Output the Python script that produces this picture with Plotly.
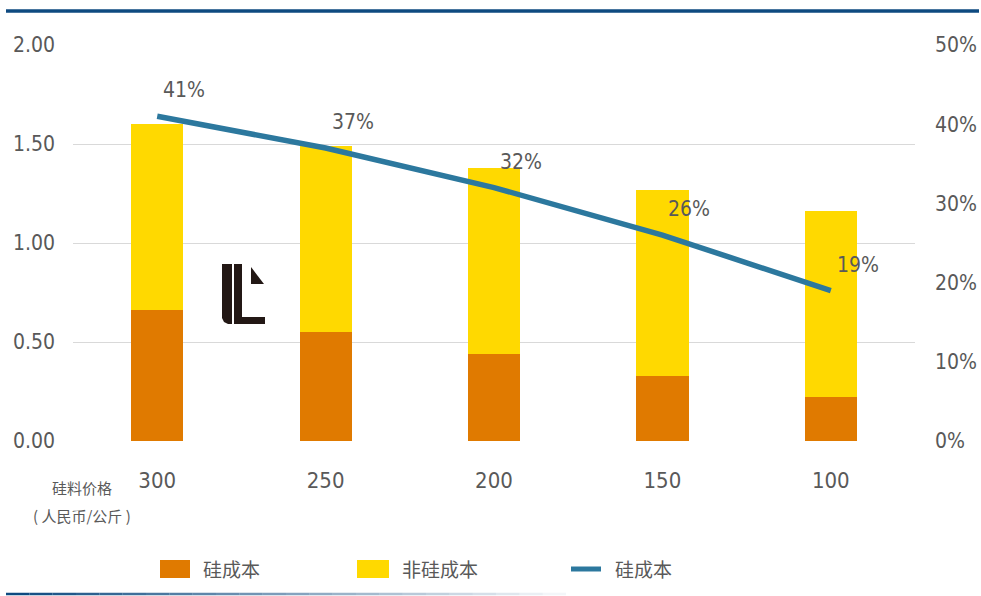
import plotly.graph_objects as go

# Silicon price (RMB/kg) and per-unit cost breakdown
prices = ["300", "250", "200", "150", "100"]
silicon_cost = [0.66, 0.55, 0.44, 0.33, 0.22]
non_silicon_cost = [0.94, 0.94, 0.94, 0.94, 0.94]
silicon_share = [0.41, 0.37, 0.32, 0.26, 0.19]

name_si = "硅成本"
name_non_si = "非硅成本"
name_share = "硅成本"
x_title_1 = "硅料价格"
x_title_2 = "( 人民币/公斤 )"

W, H = 981, 596
L, R, T, B = 73, 66, 45, 155
PW, PH = W - L - R, H - T - B

ORANGE = "#E07A00"
YELLOW = "#FFD900"
BLUE = "#2C789E"
GREY = "#595959"
FONT = "DejaVu Sans Condensed, Noto Sans CJK SC, sans-serif"
CJK = "Noto Sans CJK SC, sans-serif"


def px(x):
    return (x - L) / PW


def py(y):
    return (H - B - y) / PH


fig = go.Figure()
fig.add_trace(go.Bar(x=prices, y=silicon_cost, name=name_si,
                     marker=dict(color=ORANGE, line=dict(width=0)), width=0.31))
fig.add_trace(go.Bar(x=prices, y=non_silicon_cost, name=name_non_si,
                     marker=dict(color=YELLOW, line=dict(width=0)), width=0.31))
fig.add_trace(go.Scatter(x=prices, y=silicon_share, name=name_share, yaxis="y2",
                         mode="lines", line=dict(color=BLUE, width=5.5)))

annotations = []
for i, s in enumerate(silicon_share):
    # category index keeps the label on its bar
    annotations.append(dict(x=i, y=s, xref="x", yref="y2", text=f"{round(s * 100)}%",
                            showarrow=False, xshift=27, yshift=26,
                            xanchor="center", yanchor="middle",
                            font=dict(size=21, color=GREY, family=FONT)))

annotations += [
    dict(x=px(82), y=py(487), xref="paper", yref="paper", text=x_title_1, showarrow=False,
         xanchor="center", yanchor="middle", font=dict(size=15, color=GREY, family=CJK)),
    dict(x=px(82), y=py(515), xref="paper", yref="paper", text=x_title_2, showarrow=False,
         xanchor="center", yanchor="middle", font=dict(size=15, color=GREY, family=CJK)),
]

# Legend drawn as shapes + labels
legend_font = dict(size=19, color=GREY, family=CJK)
for xpos, label in ((201, name_si), (400, name_non_si), (613, name_share)):
    annotations.append(dict(x=px(xpos), y=py(568), xref="paper", yref="paper", text=label,
                            showarrow=False, xanchor="left", yanchor="middle", font=legend_font))

shapes = [
    dict(type="rect", xref="paper", yref="paper", x0=px(160), x1=px(190), y0=py(578), y1=py(560),
         fillcolor=ORANGE, line=dict(width=0)),
    dict(type="rect", xref="paper", yref="paper", x0=px(357), x1=px(389), y0=py(578), y1=py(560),
         fillcolor=YELLOW, line=dict(width=0)),
    dict(type="line", xref="paper", yref="paper", x0=px(571), x1=px(601), y0=py(569), y1=py(569),
         line=dict(color=BLUE, width=5)),
    # header rule
    dict(type="line", xref="paper", yref="paper", x0=px(6), x1=px(979), y0=py(11), y1=py(11),
         line=dict(color="#0E4A80", width=3.5)),
]

# footer rule fading to the right
n_seg = 24
for i in range(n_seg):
    x0 = 6 + i * (560 / n_seg)
    x1 = 6 + (i + 1) * (560 / n_seg)
    shapes.append(dict(type="line", xref="paper", yref="paper", x0=px(x0), x1=px(x1),
                       y0=py(594), y1=py(594),
                       line=dict(color="#0E4A80", width=2.5), opacity=max(0.0, 1 - i / n_seg)))


def path(points):
    return "M" + " L".join(f"{px(a):.5f},{py(b):.5f}" for a, b in points) + " Z"


# brand mark
mark = "#231815"
shapes += [
    dict(type="path", xref="paper", yref="paper", fillcolor=mark, line=dict(width=0),
         path=path([(222, 264), (232, 264), (232, 324), (228, 324), (224, 322), (222, 318)])),
    dict(type="path", xref="paper", yref="paper", fillcolor=mark, line=dict(width=0),
         path=path([(234, 264), (242, 264), (242, 317), (265, 317), (265, 324), (234, 324)])),
    dict(type="path", xref="paper", yref="paper", fillcolor=mark, line=dict(width=0),
         path=path([(251, 267), (251, 284), (264, 284)])),
]

fig.update_layout(
    width=W, height=H,
    margin=dict(l=L, r=R, t=T, b=B, autoexpand=False),
    paper_bgcolor="white", plot_bgcolor="white",
    barmode="stack", showlegend=False,
    font=dict(family=FONT, color=GREY),
    xaxis=dict(type="category", range=[-0.5, 4.5], showgrid=False, showline=False,
               zeroline=False, ticks="", ticklabelstandoff=24, automargin=False,
               tickfont=dict(size=22, color=GREY, family=FONT)),
    yaxis=dict(range=[0, 2], dtick=0.5, tickformat=".2f", showgrid=True,
               gridcolor="#D9D9D9", gridwidth=1.3, zeroline=False, showline=False,
               ticks="", ticklabelstandoff=17, automargin=False,
               tickfont=dict(size=21, color=GREY, family=FONT)),
    yaxis2=dict(range=[0, 0.5], dtick=0.1, tickformat=".0%", overlaying="y", side="right",
                showgrid=False, zeroline=False, showline=False, ticks="", automargin=False,
                ticklabelstandoff=19, tickfont=dict(size=21, color=GREY, family=FONT)),
    annotations=annotations,
    shapes=shapes,
)

fig.write_html("out.html")
